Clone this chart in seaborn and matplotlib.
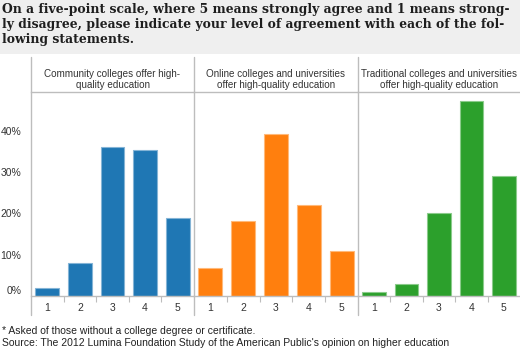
import matplotlib
matplotlib.use('Agg')
import matplotlib.pyplot as plt
import seaborn as sns
import pandas as pd
from matplotlib.lines import Line2D
from matplotlib.patches import Rectangle
import matplotlib.colors as mcolors

# ---- data ----
scale = ["1", "2", "3", "4", "5"]
community = [2.0, 8.0, 36.1, 35.3, 19.0]
online = [6.9, 18.2, 39.3, 22.1, 10.9]
traditional = [1.0, 2.9, 20.0, 47.3, 29.1]
panel_titles = [
    "Community colleges offer high-\nquality education",
    "Online colleges and universities\noffer high-quality education",
    "Traditional colleges and universities\noffer high-quality education",
]
yticks = [0, 10, 20, 30, 40]
ytick_labels = ["0%", "10%", "20%", "30%", "40%"]
title = ("On a five-point scale, where 5 means strongly agree and 1 means strong-\n"
         "ly disagree, please indicate your level of agreement with each of the fol-\n"
         "lowing statements.")
foot1 = "* Asked of those without a college degree or certificate."
foot2 = "Source: The 2012 Lumina Foundation Study of the American Public's opinion on higher education"

colors = ["#1f77b4", "#ff7f0e", "#2ca02c"]
series = [community, online, traditional]

sns.set_theme(style="white")
plt.rcParams['font.family'] = ['Liberation Sans', 'DejaVu Sans']

W, H = 520, 349
fig = plt.figure(figsize=(W / 100, H / 100), dpi=100)


def fx(px):
    return px / W


def fy(py):
    return 1 - py / H


line_col = "#bdbdbd"
txt_col = "#333333"

# title band
fig.patches.append(Rectangle((0, fy(54)), 1, 54 / H, transform=fig.transFigure,
                             facecolor="#efefef", edgecolor="none", zorder=0))
fig.text(fx(2), fy(3.5), title, ha="left", va="top", family="DejaVu Serif",
         weight="bold", fontsize=8.95, color="#1e1e1e", linespacing=1.17)

edges = [31, 194, 358, 520]
top, base = 92, 296
ymax = 49.4

for i in range(3):
    ax = fig.add_axes([fx(edges[i]), fy(base), (edges[i + 1] - edges[i]) / W, (base - top) / H])
    df = pd.DataFrame({"rating": scale, "pct": series[i]})
    light = mcolors.to_rgb(colors[i])
    light = tuple(0.55 * c + 0.45 for c in light)
    sns.barplot(data=df, x="rating", y="pct", color=colors[i], saturation=1,
                width=0.73, edgecolor=light, linewidth=0.8, ax=ax, errorbar=None)
    ax.set_xlim(-0.5, 4.5)
    ax.set_ylim(0, ymax)
    ax.set_xlabel("")
    ax.set_ylabel("")
    for s in ["left", "right"]:
        ax.spines[s].set_visible(False)
    for s in ["top", "bottom"]:
        ax.spines[s].set_visible(True)
        ax.spines[s].set_color(line_col)
        ax.spines[s].set_linewidth(1)
    ax.set_xticks(range(5))
    ax.set_xticklabels(scale)
    ax.set_xticks([0.5, 1.5, 2.5, 3.5], minor=True)
    ax.tick_params(axis="x", which="major", length=0, pad=5, labelsize=7.5, colors=txt_col)
    ax.tick_params(axis="x", which="minor", bottom=True, length=4, width=0.8,
                   color=line_col, direction="out")
    if i == 0:
        ax.set_yticks(yticks)
        ax.set_yticklabels(ytick_labels)
        ax.tick_params(axis="y", length=0, pad=7, labelsize=7.5, colors=txt_col)
        ax.get_yticklabels()[0].set_va("bottom")
    else:
        ax.set_yticks([])
    # header text
    cx = (edges[i] + edges[i + 1]) / 2
    fig.text(fx(cx), fy(79.5), panel_titles[i], ha="center", va="center",
             fontsize=7.1, color=txt_col, linespacing=1.2)

# separators
for x in edges[:3]:
    fig.add_artist(Line2D([fx(x), fx(x)], [fy(57), fy(315)], transform=fig.transFigure,
                          color=line_col, lw=1))

fig.text(fx(2), fy(331.5), foot1, ha="left", va="center", fontsize=7.5, color="#222")
fig.text(fx(2), fy(342.5), foot2, ha="left", va="center", fontsize=7.5, color="#222")

fig.savefig("out.png", dpi=100)
